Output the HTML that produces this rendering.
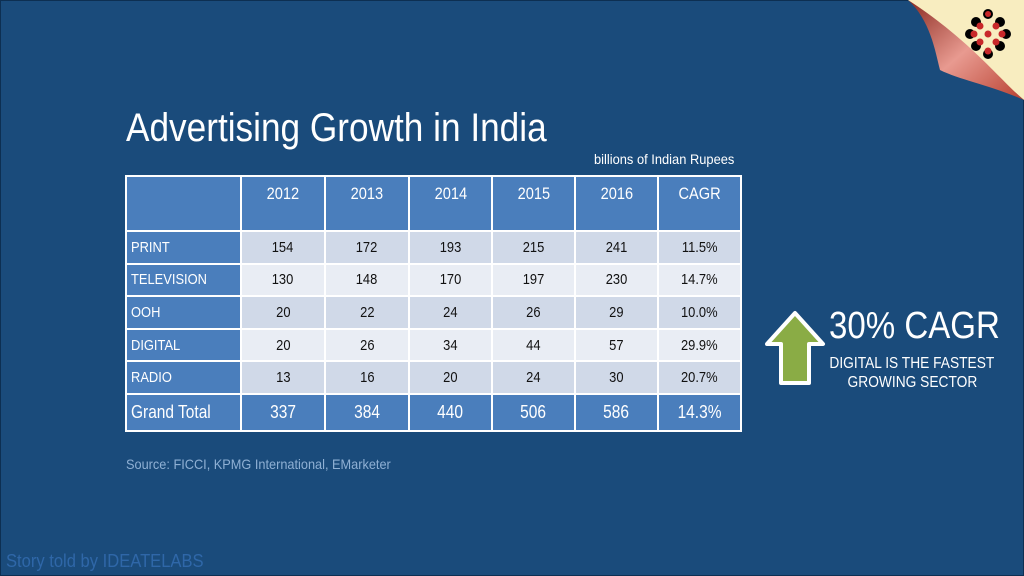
<!DOCTYPE html>
<html><head><meta charset="utf-8"><style>
body{margin:0;width:1024px;height:576px;background:#1a4b7b;overflow:hidden;position:relative;font-family:"Liberation Sans",sans-serif;color:#fff}
.abs{position:absolute;white-space:nowrap}
.n{display:inline-block;transform:scaleX(.86);transform-origin:center}
.l{transform-origin:left}
table{border-collapse:collapse;position:absolute;left:125px;top:175px;table-layout:fixed}
td{border:2px solid #fff;padding:0;font-size:15px;text-align:center;color:#111;white-space:nowrap}
td.lab{background:#4a7ebc !important;color:#fff !important;text-align:left !important;padding-left:4px}
tr.hd td{background:#4a7ebc;color:#fff;height:46px;vertical-align:top;padding-top:7px;font-size:17px}
tr.a td{background:#d0d9e8}tr.b td{background:#e9edf4}
tr.a td,tr.b td{height:30.6px}
tr.tot td{background:#4a7ebc;color:#fff;font-size:18px;height:35px}
</style></head><body>
<div class="abs" style="left:0;top:0;width:1022px;height:574px;border:1px solid #0d2f52"></div>
<div class="abs" style="left:126px;top:106px;font-size:40px"><span class="n l" style="transform:scaleX(.88)">Advertising Growth in India</span></div>
<div class="abs" style="left:594px;top:151px;font-size:14px"><span class="n l" style="transform:scaleX(.92)">billions of Indian Rupees</span></div>
<table>
<colgroup><col style="width:115px"><col style="width:84px"><col style="width:84px"><col style="width:83px"><col style="width:83px"><col style="width:83px"><col style="width:83px"></colgroup>
<tr class="hd"><td></td><td><span class="n">2012</span></td><td><span class="n">2013</span></td><td><span class="n">2014</span></td><td><span class="n">2015</span></td><td><span class="n">2016</span></td><td><span class="n">CAGR</span></td></tr>
<tr class="a"><td class="lab"><span class="n l">PRINT</span></td><td><span class="n">154</span></td><td><span class="n">172</span></td><td><span class="n">193</span></td><td><span class="n">215</span></td><td><span class="n">241</span></td><td><span class="n">11.5%</span></td></tr>
<tr class="b"><td class="lab"><span class="n l">TELEVISION</span></td><td><span class="n">130</span></td><td><span class="n">148</span></td><td><span class="n">170</span></td><td><span class="n">197</span></td><td><span class="n">230</span></td><td><span class="n">14.7%</span></td></tr>
<tr class="a"><td class="lab"><span class="n l">OOH</span></td><td><span class="n">20</span></td><td><span class="n">22</span></td><td><span class="n">24</span></td><td><span class="n">26</span></td><td><span class="n">29</span></td><td><span class="n">10.0%</span></td></tr>
<tr class="b"><td class="lab"><span class="n l">DIGITAL</span></td><td><span class="n">20</span></td><td><span class="n">26</span></td><td><span class="n">34</span></td><td><span class="n">44</span></td><td><span class="n">57</span></td><td><span class="n">29.9%</span></td></tr>
<tr class="a"><td class="lab"><span class="n l">RADIO</span></td><td><span class="n">13</span></td><td><span class="n">16</span></td><td><span class="n">20</span></td><td><span class="n">24</span></td><td><span class="n">30</span></td><td><span class="n">20.7%</span></td></tr>
<tr class="tot"><td class="lab" style="font-size:18px"><span class="n l">Grand Total</span></td><td><span class="n">337</span></td><td><span class="n">384</span></td><td><span class="n">440</span></td><td><span class="n">506</span></td><td><span class="n">586</span></td><td><span class="n">14.3%</span></td></tr>
</table>
<div class="abs" style="left:126px;top:456px;font-size:14px;color:#8fb0d4"><span class="n l" style="transform:scaleX(.91)">Source: FICCI, KPMG International, EMarketer</span></div>
<div class="abs" style="left:6px;top:551px;font-size:18px;color:#2f67a8"><span class="n l" style="transform:scaleX(.92)">Story told by IDEATELABS</span></div>
<svg class="abs" style="left:762px;top:308px" width="66" height="80"><polygon points="33,5 61,36 47,36 47,75 19,75 19,36 5,36" fill="#8aac45" stroke="#fff" stroke-width="4" stroke-linejoin="round"/></svg>
<div class="abs" style="left:829px;top:305px;font-size:38px"><span class="n l" style="transform:scaleX(.87)">30% CAGR</span></div>
<div class="abs" style="left:812px;top:354px;width:200px;text-align:center;font-size:16px;line-height:19px"><span class="n">DIGITAL IS THE FASTEST</span><br><span class="n">GROWING SECTOR</span></div>
<svg class="abs" style="left:900px;top:0" width="124" height="100">
<defs><linearGradient id="g" x1="0" y1="0" x2="1" y2="1"><stop offset="0" stop-color="#8a2a20"/><stop offset=".5" stop-color="#e89a90"/><stop offset="1" stop-color="#b84030"/></linearGradient></defs>
<polygon points="8,0 124,0 124,100" fill="#f8edc0"/>
<path d="M8,0 C30,20 35,50 40,70 C60,80 90,85 124,100 L124,100 C100,80 70,40 8,0Z" fill="url(#g)"/>
<g fill="#000"><circle cx="88" cy="14" r="5"/><circle cx="76" cy="22" r="5"/><circle cx="100" cy="22" r="5"/><circle cx="70" cy="34" r="5"/><circle cx="106" cy="34" r="5"/><circle cx="76" cy="46" r="5"/><circle cx="100" cy="46" r="5"/><circle cx="88" cy="54" r="5"/></g>
<g fill="#c8282a"><circle cx="88" cy="14" r="3"/><circle cx="80" cy="26" r="3.5"/><circle cx="96" cy="26" r="3.5"/><circle cx="74" cy="34" r="3.5"/><circle cx="88" cy="34" r="3.5"/><circle cx="102" cy="34" r="3.5"/><circle cx="80" cy="42" r="3.5"/><circle cx="96" cy="42" r="3.5"/><circle cx="88" cy="51" r="3.5"/></g>
</svg>
</body></html>
